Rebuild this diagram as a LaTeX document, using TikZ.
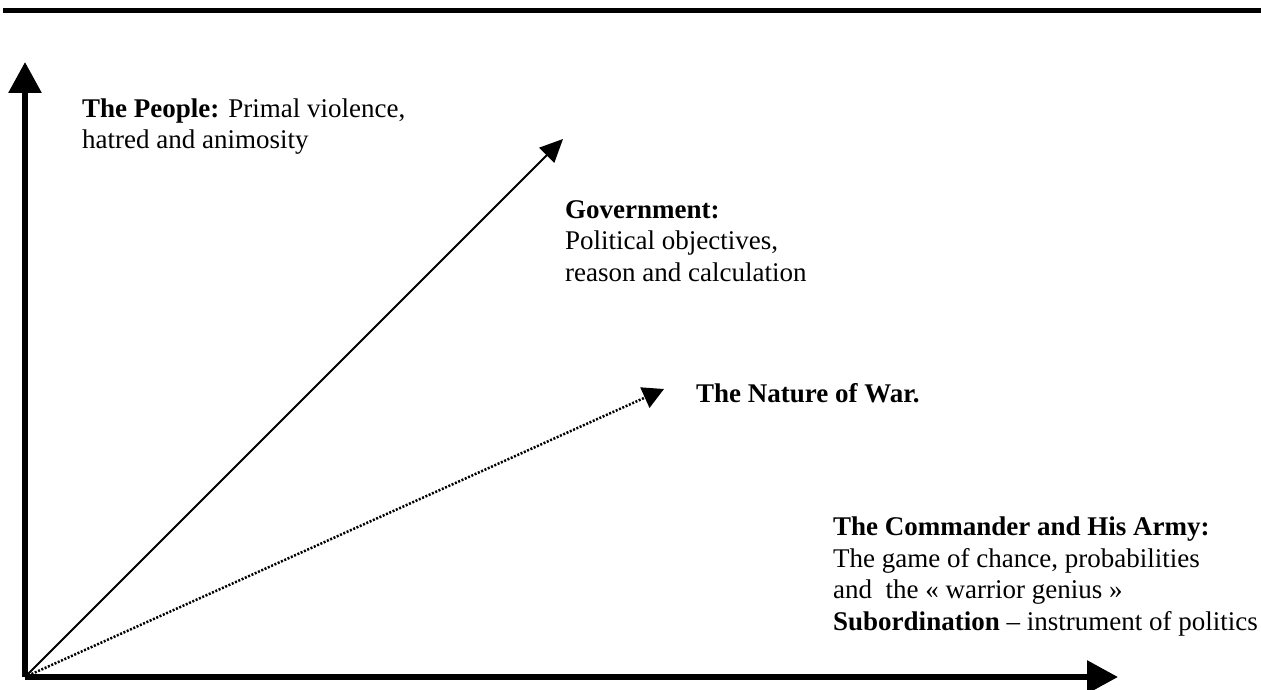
\documentclass[tikz,border=0pt]{standalone}
\usepackage{fontspec}
\setmainfont{Liberation Serif}
\usetikzlibrary{arrows.meta}
\begin{document}
\begin{tikzpicture}[x=1pt,y=-1pt,
  axis/.style={line width=6pt,-{Triangle[length=31pt,width=32pt]}},
  force/.style={line width=2pt,-{Triangle[length=23pt,width=21pt]}},
  nature/.style={line width=2.5pt,dash pattern=on 2pt off 1.6pt,-{Triangle[length=21pt,width=22pt]}},
  % multi-line labels are placed by the baseline of their last line
  label/.style={anchor=base west,inner sep=0pt,align=left,
    font=\fontsize{27}{31.5}\selectfont}]
\useasboundingbox (0,0) rectangle (1261,690);
% heading rule
\coordinate (ruleL) at (3,10.5);
\coordinate (ruleR) at (1261,10.5);
\draw[line width=5pt] (ruleL) -- (ruleR);
% axes
\coordinate (O) at (25,677);
\coordinate (up) at (25,62);
\coordinate (right) at (1118,677);
\draw[axis] (O) -- (up);
\draw[axis] (O) -- (right);
% diagonals
\coordinate (gov) at (563,139);
\coordinate (war) at (664,389);
\draw[force] (O) -- (gov);
\draw[nature] (O) -- (war);
% labels
\node[label] (people) at (82,148.5) {\textbf{The People:} Primal violence,\\hatred and animosity};
\node[label] (government) at (565,281) {\textbf{Government:}\\Political objectives,\\reason and calculation};
\node[label] (nature) at (696,402) {\textbf{The Nature of War.}};
\node[label] (army) at (833,630) {\textbf{The Commander and His Army:}\\The game of chance, probabilities\\and\ \ the « warrior genius »\\\textbf{Subordination} -- instrument of politics};
\end{tikzpicture}
\end{document}
